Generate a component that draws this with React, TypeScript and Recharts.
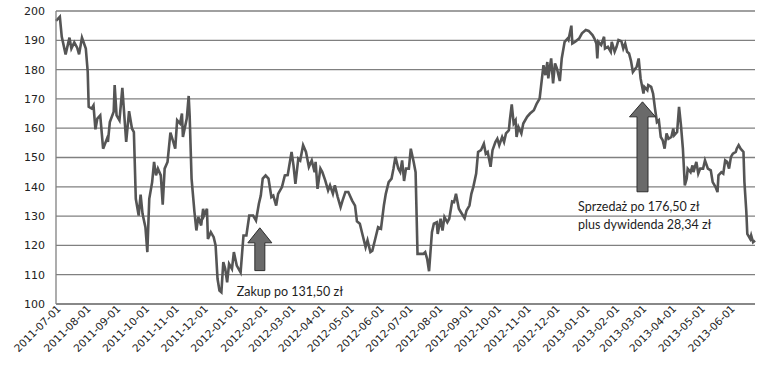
import { LineChart, Line, CartesianGrid, XAxis, YAxis, ReferenceLine, ReferenceDot } from "recharts";

const startDate = "2011-07-01";

const tickLabels = [
  "2011-07-01", "2011-08-01", "2011-09-01", "2011-10-01", "2011-11-01", "2011-12-01",
  "2012-01-01", "2012-02-01", "2012-03-01", "2012-04-01", "2012-05-01", "2012-06-01",
  "2012-07-01", "2012-08-01", "2012-09-01", "2012-10-01", "2012-11-01", "2012-12-01",
  "2013-01-01", "2013-02-01", "2013-03-01", "2013-04-01", "2013-05-01", "2013-06-01",
];

// days since startDate
const dayOffsets = [
  0, 4, 6, 10, 14, 16, 19, 22, 24, 27, 31, 33, 34, 37, 39, 41, 43, 46, 49, 53,
  54, 56, 60, 61, 63, 66, 69, 73, 76, 79, 81, 83, 86, 88, 90, 93, 95, 97, 100, 102,
  104, 106, 109, 111, 113, 116, 119, 122, 124, 126, 129, 131, 132, 136, 138, 139, 141, 144, 146, 148,
  151, 153, 154, 157, 158, 161, 164, 166, 168, 170, 172, 174, 176, 178, 180, 183, 185, 188, 192, 195,
  198, 201, 205, 208, 211, 213, 215, 218, 221, 224, 226, 229, 231, 235, 238, 241, 245, 247, 249, 252,
  254, 257, 260, 263, 266, 269, 270, 272, 275, 277, 280, 283, 285, 288, 290, 293, 296, 298, 301, 304,
  308, 311, 313, 316, 319, 322, 324, 327, 329, 332, 335, 338, 341, 343, 346, 349, 351, 353, 356, 358,
  360, 362, 364, 367, 369, 372, 374, 376, 379, 382, 384, 386, 388, 391, 393, 396, 397, 400, 402, 404,
  407, 409, 412, 414, 416, 419, 421, 425, 427, 430, 432, 434, 437, 439, 442, 445, 447, 449, 452, 454,
  457, 459, 461, 464, 466, 468, 471, 472, 474, 476, 478, 479, 481, 484, 486, 490, 493, 497, 500, 503,
  505, 507, 509, 511, 512, 515, 517, 519, 521, 524, 526, 529, 532, 533, 536, 537, 540, 544, 547, 551,
  554, 558, 560, 562, 563, 564, 567, 570, 571, 574, 577, 578, 581, 583, 585, 588, 590, 592, 594, 596,
  598, 600, 604, 606, 608, 611, 612, 615, 616, 619, 621, 623, 625, 627, 629, 631, 633, 635, 637, 640,
  642, 643, 646, 648, 650, 652, 654, 656, 657, 660, 662, 663, 666, 668, 670, 673, 675, 678, 681, 683,
  686, 688, 689, 692, 694, 696, 698, 700, 702, 704, 707, 708, 710, 712, 715, 716, 718, 719, 722, 723,
  725, 727,
];

const closePrices = [
  196.6, 198, 191.2, 185.2, 190.9, 187.2, 189.3, 187.5, 185.2, 190.9, 187.2, 179.2, 167.3, 166.7, 167.8, 159.6, 163.3, 164.4, 153, 156.4,
  155.3, 162.1, 165.6, 174.7, 164.4, 162.7, 173.8, 155.3, 165.8, 159.9, 158.7, 135.9, 130.2, 137.3, 130.8, 126.2, 117.7, 135.9, 141.6, 148.5,
  143.9, 146.2, 143.9, 133.9, 146.2, 148.5, 158.5, 155.3, 153, 162.7, 161.6, 165, 157, 163.3, 171, 164.4, 142.8, 131.4, 125.1, 129.7,
  126.8, 132.5, 130.2, 132.5, 122.2, 124.5, 122.8, 120, 108.6, 104.6, 104, 114.3, 112, 107.4, 113.7, 112, 117.7, 113.1, 110.8, 123.4,
  123.4, 130.2, 130.2, 128.5, 134.2, 137, 142.8, 143.9, 142.8, 136.5, 137, 133.6, 137.6, 139.9, 143.9, 144, 151.9, 147.3, 141, 149.6,
  149, 154.2, 151.9, 146.8, 149, 145, 148.5, 139.3, 146.2, 145, 142.2, 138.8, 140.5, 137.6, 140.5, 136.5, 133.1, 135.3, 138.2, 138.2,
  135.3, 133.6, 128.2, 127.4, 123.4, 119.4, 121.7, 117.7, 118.2, 122.2, 126.2, 125.7, 133.6, 137.6, 141.6, 142.8, 146.2, 150.2, 146.2, 145,
  149, 142, 146.2, 146.2, 153, 148.5, 145, 117.1, 117.1, 117.1, 117.7, 115.4, 111.2, 124.5, 127.4, 127.9, 123.9, 129.1, 125.1, 129.7,
  127.9, 129.1, 135, 134.8, 137.6, 132.5, 131.4, 129.3, 131.9, 133.6, 137.6, 139.9, 144.5, 151.9, 152.5, 154.7, 151.3, 151.9, 146.8, 152.5,
  155.3, 156.4, 154.2, 157, 155.3, 158.2, 159.3, 162.7, 168.1, 161.6, 162.7, 157, 160.4, 158.2, 161.6, 163.9, 165, 166.1, 168.4, 170.1,
  175.8, 181.5, 178.1, 182.6, 177, 183.8, 175.3, 182.1, 180.4, 176.1, 183.8, 189.5, 190.6, 190.1, 195, 188.9, 189.5, 190.6, 192.4, 193.5,
  193.2, 191.8, 190.6, 188.9, 183.8, 189.5, 188.4, 191.2, 187.2, 187.8, 186.1, 189.5, 186.1, 187.8, 190.1, 189.7, 187.2, 188.9, 186.1, 185.5,
  183, 179.2, 181, 183.8, 177, 171.8, 174.1, 173, 174.7, 174.1, 171.8, 166.7, 162.1, 162.7, 157, 155.9, 153, 158.2, 156.4, 157,
  159.9, 157.6, 158.7, 167.3, 161, 153, 140.5, 142.8, 146.2, 145, 147.3, 145, 148.5, 144.5, 146.2, 146.2, 149, 146.2, 145.6, 141.6,
  139.9, 138.2, 143.9, 145, 144.5, 149, 148.5, 146.2, 150.2, 151.3, 151.9, 153, 154.2, 153, 151.9, 141.6, 131.4, 123.9, 122.2, 123.4,
  121.1, 121.7,
];

const yTicks = [100, 110, 120, 130, 140, 150, 160, 170, 180, 190, 200];

const buyArrow = { day: 212, from: 111.4, to: 126, shaft: 5, head: 12 };
const sellArrow = { day: 610, from: 138.3, to: 169, shaft: 5.5, head: 13 };

const buyNote = { day: 188, price: 102.7, lines: ["Zakup po 131,50  zł"] };
const sellNote = { day: 543, price: 131.7, lines: ["Sprzedaż po 176,50  zł", "plus dywidenda 28,34 zł"] };

const DAY = 86400000;
const daysFromStart = (d: string) => Math.round((Date.parse(d) - Date.parse(startDate)) / DAY);
const tickPositions = tickLabels.map(daysFromStart);

const data = dayOffsets.map((day, i) => ({ day, price: closePrices[i] }));

const font = "'DejaVu Sans', Verdana, sans-serif";
const noteFont = "Lato, 'Open Sans', sans-serif";

const DateTick = (props: any) => {
  const { x, y, payload } = props;
  const idx = tickPositions.indexOf(payload.value);
  const tx = x + 3;
  const ty = y;
  return (
    <text
      x={tx}
      y={ty}
      dy="0.35em"
      textAnchor="end"
      transform={`rotate(-45, ${tx}, ${ty})`}
      fontSize={10.5}
      fontFamily={font}
      fill="#222"
    >
      {idx >= 0 ? tickLabels[idx] : ""}
    </text>
  );
};

const arrowShape = (cfg: { shaft: number; head: number }) => (props: any) => {
  const { x1, y1, y2 } = props;
  const x = x1;
  const yb = y1;
  const yt = y2;
  const yh = yt + 15;
  const pts = [
    [x - cfg.shaft, yb],
    [x - cfg.shaft, yh],
    [x - cfg.head, yh],
    [x, yt],
    [x + cfg.head, yh],
    [x + cfg.shaft, yh],
    [x + cfg.shaft, yb],
  ]
    .map((p) => p.join(","))
    .join(" ");
  return <polygon points={pts} fill="#6a6a6a" stroke="#2e2e2e" strokeWidth={1} />;
};

const noteShape = (lines: string[]) => (props: any) => {
  const { cx, cy } = props;
  return (
    <text x={cx} y={cy} fontSize={12.5} fontFamily={noteFont} fill="#1e1e1e">
      {lines.map((l, i) => (
        <tspan key={i} x={cx} dy={i === 0 ? 0 : 18}>
          {l}
        </tspan>
      ))}
    </text>
  );
};

export default function App() {
  return (
    <div style={{ position: "absolute", left: 0, top: 0, background: "#fff" }}>
      <LineChart width={780} height={374} data={data} margin={{ top: 11, right: 25, left: 0, bottom: 0 }}>
        <CartesianGrid vertical={false} stroke="#808080" strokeWidth={1.3} />
        <XAxis
          dataKey="day"
          type="number"
          domain={[0, 727]}
          ticks={tickPositions}
          interval={0}
          tick={<DateTick />}
          tickLine={false}
          tickSize={0}
          tickMargin={3}
          axisLine={{ stroke: "#808080", strokeWidth: 1.3 }}
          height={70}
        />
        <YAxis
          type="number"
          domain={[100, 200]}
          ticks={yTicks}
          interval={0}
          width={56}
          tickLine={false}
          tickSize={0}
          tickMargin={11}
          axisLine={{ stroke: "#808080", strokeWidth: 1.3 }}
          tick={{ fontSize: 11, fontFamily: font, fill: "#222" }}
        />
        <Line
          type="linear"
          dataKey="price"
          stroke="#555"
          strokeWidth={2.6}
          dot={false}
          isAnimationActive={false}
        />
        <ReferenceLine
          segment={[{ x: buyArrow.day, y: buyArrow.from }, { x: buyArrow.day, y: buyArrow.to }]}
          shape={arrowShape(buyArrow)}
        />
        <ReferenceLine
          segment={[{ x: sellArrow.day, y: sellArrow.from }, { x: sellArrow.day, y: sellArrow.to }]}
          shape={arrowShape(sellArrow)}
        />
        <ReferenceDot x={buyNote.day} y={buyNote.price} r={0} shape={noteShape(buyNote.lines)} />
        <ReferenceDot x={sellNote.day} y={sellNote.price} r={0} shape={noteShape(sellNote.lines)} />
      </LineChart>
    </div>
  );
}
